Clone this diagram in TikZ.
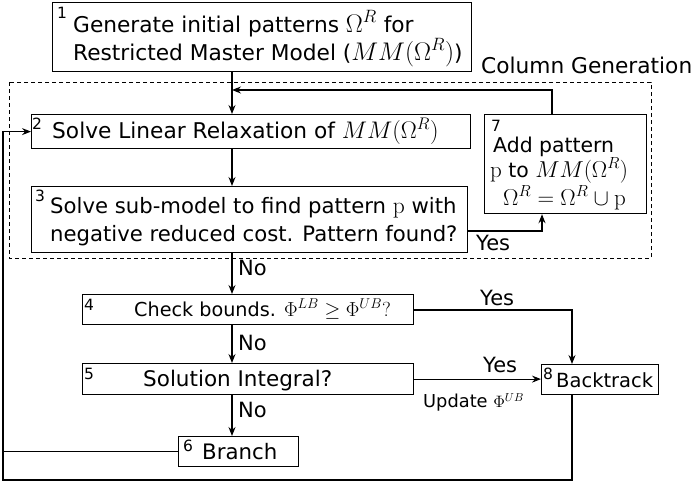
\RequirePackage{fix-cm}
\documentclass[tikz,border=0pt]{standalone}
\usepackage[no-math]{fontspec}
\setmainfont{DejaVu Sans}
\usetikzlibrary{arrows.meta}
\newcommand{\mth}[2]{{\fontsize{#1}{#1}\selectfont$#2$}}
\begin{document}
\begin{tikzpicture}[x=1pt,y=-1pt,
  box/.style={draw, line width=1.2pt, fill=white, rectangle, inner sep=0pt, anchor=north west},
  txt/.style={inner sep=0pt, anchor=base west, font=\fontsize{21.7}{25}\selectfont},
  txtm/.style={inner sep=0pt, anchor=base west, font=\fontsize{19.2}{22}\selectfont},
  txts/.style={inner sep=0pt, anchor=base west, font=\fontsize{17.8}{20}\selectfont},
  lbl/.style={inner sep=0pt, anchor=base west, font=\fontsize{21}{24}\selectfont},
  num/.style={inner sep=0pt, anchor=north west, font=\fontsize{15.5}{18}\selectfont},
  line/.style={line width=1.2pt},
  arr/.style={line width=1.2pt, -{Stealth[length=9pt,width=7pt,inset=3pt]}},
  dashbox/.style={line width=0.9pt, dash pattern=on 4pt off 3pt}
]
\fill[white] (0,0) rectangle (692,482);
\useasboundingbox (0,0) rectangle (692,482);

% column generation frame
\draw[dashbox] (9,82) rectangle (651,258);
\node[txt] (cg) at (481,73) {Column Generation};

% boxes
\node[box, minimum width=419pt, minimum height=69pt] (b1) at (52,2) {};
\node[box, minimum width=439pt, minimum height=34pt] (b2) at (31,114) {};
\node[box, minimum width=436pt, minimum height=66pt] (b3) at (31,186) {};
\node[box, minimum width=162pt, minimum height=99pt] (b7) at (484,114) {};
\node[box, minimum width=331pt, minimum height=30pt] (b4) at (82,294) {};
\node[box, minimum width=331pt, minimum height=31pt] (b5) at (82,363) {};
\node[box, minimum width=120pt, minimum height=30pt] (b6) at (178,436) {};
\node[box, minimum width=117pt, minimum height=30pt] (b8) at (541,364) {};

% numbers
\node[num] (n1) at (57,7) {1};
\node[num] (n2) at (32,118) {2};
\node[num] (n3) at (35,190) {3};
\node[num] (n4) at (84,299) {4};
\node[num] (n5) at (84,368) {5};
\node[num] (n6) at (183,440) {6};
\node[num] (n7) at (491,120) {7};
\node[num] (n8) at (543,368) {8};

% texts
\node[txt] (t1a) at (73,32) {Generate initial patterns \mth{25.5}{\Omega^R} for};
\node[txt] (t1b) at (73,60) {Restricted Master Model (\mth{25.5}{MM(\Omega^R)})};
\node[txt] (t2) at (52,138) {Solve Linear Relaxation of \mth{24}{MM(\Omega^R)}};
\node[txt, font=\fontsize{21.2}{25}\selectfont] (t3a) at (50,213) {Solve sub-model to find pattern \mth{23.5}{\mathrm{p}} with};
\node[txt, font=\fontsize{21.2}{25}\selectfont] (t3b) at (50,241) {negative reduced cost. Pattern found?};
\node[txt, font=\fontsize{20.4}{23}\selectfont] (t7a) at (493,152) {Add pattern};
\node[txt, font=\fontsize{20.4}{23}\selectfont] (t7b) at (490,177) {\mth{23}{\mathrm{p}} to \mth{23}{MM(\Omega^R)}};
\node[txt, font=\fontsize{20.4}{23}\selectfont] (t7c) at (503,205) {\mth{23}{\Omega^R=\Omega^R\cup\mathrm{p}}};
\node[txtm] (t4) at (134,316) {Check bounds. \mth{20.3}{\Phi^{LB}\geq\Phi^{UB}?}};
\node[txt, font=\fontsize{21.5}{24}\selectfont] (t5) at (143,386) {Solution Integral?};
\node[txt, font=\fontsize{21.3}{24}\selectfont] (t6) at (202,459) {Branch};
\node[txt, font=\fontsize{19.5}{23}\selectfont] (t8) at (556,387) {Backtrack};

% connectors
\coordinate (ax) at (232,0);
\draw[arr] (b1.south -| ax) -- (b2.north -| ax);
\draw[arr] (b2.south -| ax) -- (b3.north -| ax);
\draw[arr] (b3.south -| ax) -- (b4.north -| ax);
\draw[arr] (b4.south -| ax) -- (b5.north -| ax);
\draw[arr] (b5.south -| ax) -- (b6.north -| ax);

\coordinate (c7) at (552,90);
\draw[arr] (b7.north -| c7) -- (c7) -- (c7 -| ax);

\coordinate (c3) at (542,231);
\draw[arr] (b3.east |- c3) -- (c3) -- (c3 |- b7.south);

\coordinate (c8) at (572,310);
\draw[arr] (b4.east |- c8) -- (c8) -- (c8 |- b8.north);

\draw[arr] (b5.east) -- (b5.east -| b8.west);

\coordinate (cb) at (572,480);
\coordinate (lx) at (3,480);
\draw[arr] (b8.south -| cb) -- (cb) -- (lx) -- (lx |- b2.west) -- (b2.west);
\draw[line] (b6.west) -- (b6.west -| lx);

% labels
\node[lbl] (y3) at (476,250) {Yes};
\node[lbl] (y4) at (480,305) {Yes};
\node[lbl] (y5) at (483,372) {Yes};
\node[txts] (up) at (423,407) {Update \mth{16.5}{\Phi^{UB}}};
\node[lbl] (no1) at (238,275) {No};
\node[lbl] (no2) at (238,350) {No};
\node[lbl] (no3) at (238,417) {No};
\end{tikzpicture}
\end{document}
